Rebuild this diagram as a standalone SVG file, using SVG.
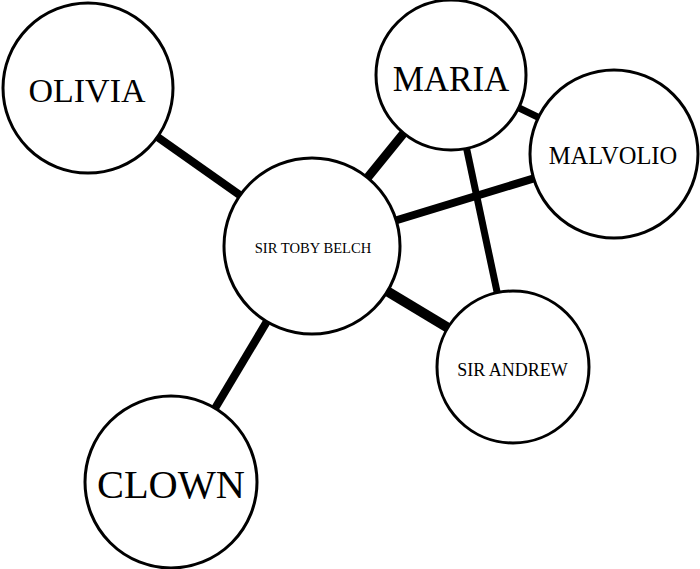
<svg xmlns="http://www.w3.org/2000/svg" width="700" height="569" viewBox="0 0 700 569">
<style>
.node{fill:#fff;stroke:#000;stroke-width:3}
.lbl{font-family:"Liberation Serif","Times New Roman",serif;fill:#000;text-anchor:middle}
.edge{stroke:#000;stroke-linecap:butt}
</style>
<rect width="700" height="569" fill="#fff"/>
<g id="connectors">
<line class="edge" x1="88" y1="88" x2="312" y2="246" stroke-width="8"/>
<line class="edge" x1="312" y1="246" x2="451" y2="75" stroke-width="9"/>
<line class="edge" x1="312" y1="246" x2="614" y2="154" stroke-width="8"/>
<line class="edge" x1="312" y1="246" x2="513" y2="367" stroke-width="10"/>
<line class="edge" x1="312" y1="246" x2="171" y2="482" stroke-width="8"/>
<line class="edge" x1="451" y1="75" x2="614" y2="154" stroke-width="7"/>
<line class="edge" x1="451" y1="75" x2="513" y2="367" stroke-width="7"/>
</g>
<g id="olivia">
<circle class="node" cx="88" cy="88" r="85"/>
<text class="lbl" x="87" y="102" font-size="34">OLIVIA</text>
</g>
<g id="maria">
<circle class="node" cx="451" cy="75" r="75"/>
<text class="lbl" x="451" y="91" font-size="35">MARIA</text>
</g>
<g id="malvolio">
<circle class="node" cx="614" cy="154" r="84"/>
<text class="lbl" x="613" y="164" font-size="24.5">MALVOLIO</text>
</g>
<g id="sir-toby-belch">
<circle class="node" cx="312" cy="246" r="88"/>
<text class="lbl" x="313" y="253" font-size="14.6">SIR TOBY BELCH</text>
</g>
<g id="sir-andrew">
<circle class="node" cx="513" cy="367" r="76"/>
<text class="lbl" x="512.5" y="376" font-size="18">SIR ANDREW</text>
</g>
<g id="clown">
<circle class="node" cx="171" cy="482" r="86"/>
<text class="lbl" x="171" y="498" font-size="40.4">CLOWN</text>
</g>
</svg>
